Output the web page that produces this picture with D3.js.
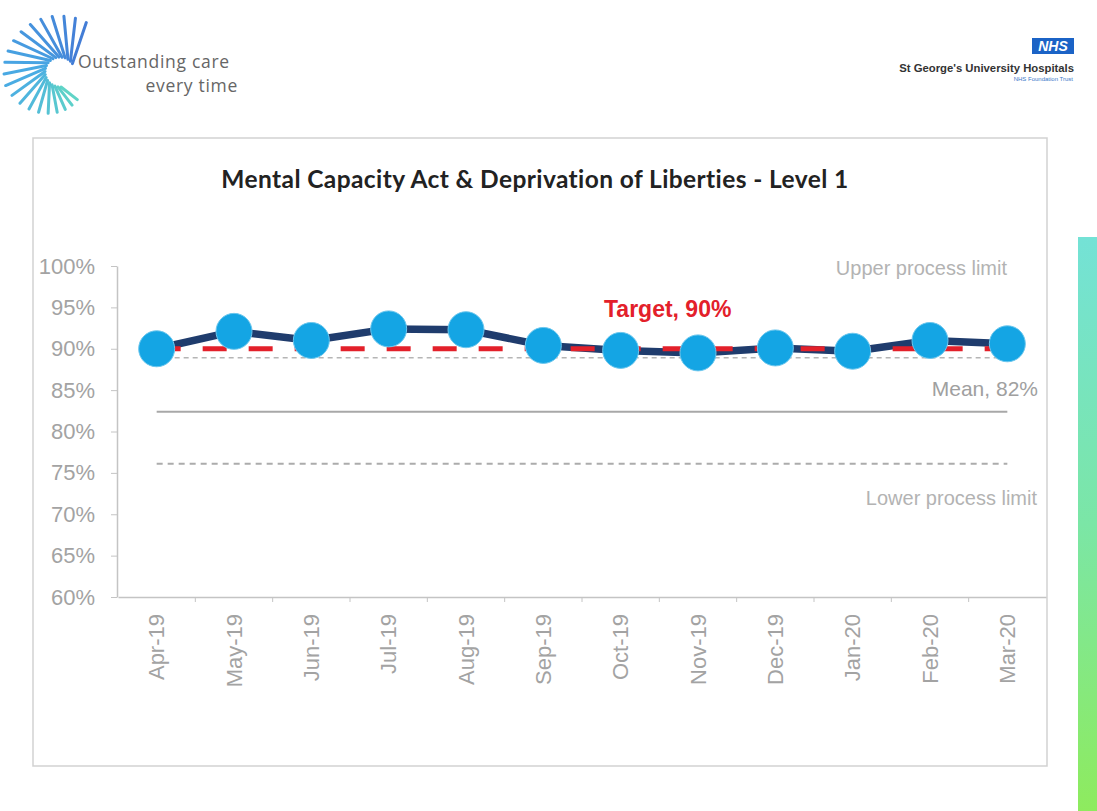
<!DOCTYPE html>
<html>
<head>
<meta charset="utf-8">
<script src="https://cdn.jsdelivr.net/npm/d3@7"></script>
<style>
  body { margin: 0; background: #ffffff; }
  svg { display: block; }
</style>
</head>
<body>
<svg id="slide" width="1097" height="811"></svg>
<script>
// Monthly compliance, Mental Capacity Act & DoLS Level 1 training
const months = ["Apr-19", "May-19", "Jun-19", "Jul-19", "Aug-19", "Sep-19",
                "Oct-19", "Nov-19", "Dec-19", "Jan-20", "Feb-20", "Mar-20"];
const compliance = [90.0, 92.1, 91.0, 92.4, 92.3, 90.4, 89.8, 89.5, 90.1, 89.7, 91.0, 90.6];
const targetValue = 90;
const meanValue = 82.4;
const upperLimit = 88.9;
const lowerLimit = 76.1;
const yTicks = [60, 65, 70, 75, 80, 85, 90, 95, 100];

const svg = d3.select("#slide");

// ---- header: trust strapline logo (swirl of rays) ----
const logo = svg.append("g").attr("class", "logo");
const rayCount = 21;
const rayColor = d3.scaleLinear()
  .domain([0, rayCount / 2, rayCount - 1])
  .range(["#2f6fd2", "#36a2e2", "#4fd0c2"]);
d3.range(rayCount).forEach(i => {
  const deg = -62 - i * 12;
  const a = deg * Math.PI / 180;
  const inner = (deg + 28) * Math.PI / 180;   // inner ends lag behind, giving the swirl
  const r0 = 15;
  const r1 = i < 12 ? 56 : 56 - (i - 11) * 2.6;
  logo.append("line")
    .attr("x1", 60 + r0 * Math.cos(inner)).attr("y1", 72 + r0 * Math.sin(inner))
    .attr("x2", 60 + r1 * Math.cos(a)).attr("y2", 72 + r1 * Math.sin(a))
    .attr("stroke", rayColor(i)).attr("stroke-width", 3)
    .attr("stroke-linecap", "round").attr("opacity", 0.9);
});
logo.append("text").attr("x", 78).attr("y", 68)
  .attr("font-family", "Open Sans, sans-serif").attr("font-size", 17.5).attr("letter-spacing", 0.7)
  .attr("fill", "#666").text("Outstanding care");
logo.append("text").attr("x", 238).attr("y", 92).attr("text-anchor", "end")
  .attr("font-family", "Open Sans, sans-serif").attr("font-size", 17.5).attr("letter-spacing", 0.7)
  .attr("fill", "#666").text("every time");

// ---- header: NHS trust identifier ----
const nhs = svg.append("g").attr("class", "nhs");
nhs.append("rect").attr("x", 1032).attr("y", 38).attr("width", 42).attr("height", 16)
  .attr("fill", "#1b63c6");
nhs.append("text").attr("x", 1053).attr("y", 51).attr("text-anchor", "middle")
  .attr("font-family", "Liberation Sans, Arial, sans-serif").attr("font-weight", "bold")
  .attr("font-style", "italic").attr("font-size", 14).attr("fill", "#fff").text("NHS");
nhs.append("text").attr("x", 1074).attr("y", 72).attr("text-anchor", "end")
  .attr("font-family", "Liberation Sans Narrow, Liberation Sans, sans-serif").attr("font-weight", "bold")
  .attr("font-size", 11.3).attr("fill", "#333").text("St George's University Hospitals");
nhs.append("text").attr("x", 1073).attr("y", 81).attr("text-anchor", "end")
  .attr("font-family", "Liberation Sans, sans-serif")
  .attr("font-size", 6).attr("fill", "#3a78c9").text("NHS Foundation Trust");

// ---- side accent bar ----
const defs = svg.append("defs");
const grad = defs.append("linearGradient").attr("id", "sideBar")
  .attr("x1", 0).attr("y1", 0).attr("x2", 0).attr("y2", 1);
grad.append("stop").attr("offset", "0%").attr("stop-color", "#74e2d6");
grad.append("stop").attr("offset", "50%").attr("stop-color", "#7be6a6");
grad.append("stop").attr("offset", "100%").attr("stop-color", "#8eeb5e");
svg.append("rect").attr("x", 1078).attr("y", 237).attr("width", 19).attr("height", 574)
  .attr("fill", "url(#sideBar)");

// ---- chart frame ----
svg.append("rect").attr("x", 33).attr("y", 138).attr("width", 1014).attr("height", 628)
  .attr("fill", "#fff").attr("stroke", "#d2d2d2").attr("stroke-width", 1.5);

svg.append("text").attr("x", 535).attr("y", 188).attr("text-anchor", "middle")
  .attr("font-family", "Lato, sans-serif").attr("font-weight", "bold")
  .attr("font-size", 24.5).attr("letter-spacing", 0.4).attr("fill", "#222")
  .text("Mental Capacity Act & Deprivation of Liberties - Level 1");

// ---- scales ----
const x = d3.scaleBand().domain(months).range([118, 1046]).padding(0);
const cx = d => x(d) + x.bandwidth() / 2;
const y = d3.scaleLinear().domain([60, 100]).range([597, 266]);

const axisFont = "Liberation Sans, Arial, sans-serif";

// y axis
const yAxis = svg.append("g").attr("transform", "translate(117,0)")
  .call(d3.axisLeft(y).tickValues(yTicks).tickFormat(d => d + "%")
    .tickSize(6).tickSizeOuter(0).tickPadding(16));
yAxis.select(".domain").attr("stroke", "#c4c4c4").attr("stroke-width", 1.5);
yAxis.selectAll(".tick line").attr("stroke", "#c4c4c4");
yAxis.selectAll(".tick text").attr("font-family", axisFont).attr("font-size", 22)
  .attr("fill", "#a3a3a3");

// x axis
const xAxis = svg.append("g").attr("transform", "translate(0,597)")
  .call(d3.axisBottom(x).tickSize(0).tickSizeOuter(0));
xAxis.select(".domain").attr("stroke", "#c4c4c4").attr("stroke-width", 1.5);
xAxis.selectAll(".tick text")
  .attr("font-family", axisFont).attr("font-size", 22).attr("fill", "#a3a3a3")
  .attr("transform", "rotate(-90)").attr("text-anchor", "end")
  .attr("x", -17).attr("y", 0).attr("dy", "0.35em");
// category boundary ticks
xAxis.selectAll(".boundary").data(months.slice(1)).join("line")
  .attr("class", "boundary")
  .attr("x1", d => x(d)).attr("x2", d => x(d)).attr("y1", 0).attr("y2", 5)
  .attr("stroke", "#c4c4c4");

// ---- process limits and mean ----
const x0 = cx(months[0]), x1 = cx(months[months.length - 1]);
svg.append("line").attr("x1", x0).attr("x2", x1).attr("y1", y(upperLimit)).attr("y2", y(upperLimit))
  .attr("stroke", "#b5b5b5").attr("stroke-width", 1.5).attr("stroke-dasharray", "5,4");
svg.append("line").attr("x1", x0).attr("x2", x1).attr("y1", y(meanValue)).attr("y2", y(meanValue))
  .attr("stroke", "#a8a8a8").attr("stroke-width", 2);
svg.append("line").attr("x1", x0).attr("x2", x1).attr("y1", y(lowerLimit)).attr("y2", y(lowerLimit))
  .attr("stroke", "#acacac").attr("stroke-width", 2).attr("stroke-dasharray", "6,5");

// ---- compliance line ----
const line = d3.line().x((d, i) => cx(months[i])).y(d => y(d));
svg.append("path").datum(compliance).attr("d", line)
  .attr("fill", "none").attr("stroke", "#1f3c6d").attr("stroke-width", 7.5)
  .attr("stroke-linejoin", "round");

// ---- target ----
svg.append("line").attr("x1", x0).attr("x2", x1).attr("y1", y(targetValue)).attr("y2", y(targetValue))
  .attr("stroke", "#e3202a").attr("stroke-width", 5).attr("stroke-dasharray", "24,22");

// ---- markers ----
svg.selectAll(".marker").data(compliance).join("circle")
  .attr("class", "marker")
  .attr("cx", (d, i) => cx(months[i])).attr("cy", d => y(d)).attr("r", 18)
  .attr("fill", "#14a5e4").attr("stroke", "#6cc7ee").attr("stroke-width", 1);

// ---- annotations ----
const labelFont = "Liberation Sans, Arial, sans-serif";
svg.append("text").attr("x", 1007).attr("y", 275).attr("text-anchor", "end")
  .attr("font-family", labelFont).attr("font-size", 20).attr("fill", "#b3b3b3")
  .text("Upper process limit");
svg.append("text").attr("x", 604).attr("y", 317)
  .attr("font-family", labelFont).attr("font-weight", "bold").attr("font-size", 23)
  .attr("fill", "#e3202a").text(`Target, ${targetValue}%`);
svg.append("text").attr("x", 1038).attr("y", 396).attr("text-anchor", "end")
  .attr("font-family", labelFont).attr("font-size", 21).attr("fill", "#a0a0a0")
  .text(`Mean, ${Math.round(meanValue)}%`);
svg.append("text").attr("x", 1037).attr("y", 505).attr("text-anchor", "end")
  .attr("font-family", labelFont).attr("font-size", 20).attr("fill", "#b3b3b3")
  .text("Lower process limit");
</script>
</body>
</html>
